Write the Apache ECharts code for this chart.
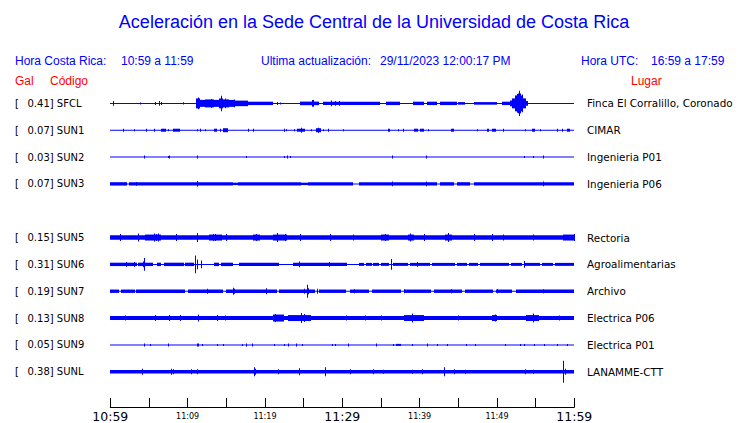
<!DOCTYPE html>
<html><head><meta charset="utf-8">
<script src="https://cdn.jsdelivr.net/npm/echarts@6/dist/echarts.min.js"></script>
<style>html,body{margin:0;padding:0;background:#fff}#c{width:740px;height:423px}</style>
</head><body><div id="c"></div>
<script>
// ---- data ----
const stations = ['SFCL','SUN1','SUN2','SUN3','SUN5','SUN6','SUN7','SUN8','SUN9','SUNL'];
const galValues = [0.41,0.07,0.03,0.07,0.15,0.31,0.19,0.13,0.05,0.38];
const places = ['Finca El Corralillo, Coronado','CIMAR','Ingenieria P01','Ingenieria P06','Rectoria','Agroalimentarias','Archivo','Electrica P06','Electrica P01','LANAMME-CTT'];
const rowSlots = [0,1,2,3,5,6,7,8,9,10];           // SUN4 slot (4) is empty
const tickLabels = ['10:59','11:09','11:19','11:29','11:39','11:49','11:59']; // every 10 min
const headerLocal = '10:59 a 11:59';
const headerUpdate = '29/11/2023 12:00:17 PM';
const headerUTC = '16:59 a 17:59';

// envelope segments [startMin, endMin, halfAmplitude] and spikes [min, halfAmplitude]
const sfclBand = [[11.1,11.6,5],[11.6,12.3,3.5],[12.3,13.4,4],[13.4,14.0,3.5],[14.0,14.6,5],[14.6,15.3,4],[15.3,16.1,3.5],[16.1,17.8,2.8],[17.8,21.0,1.7],[24.5,26.1,1.8],[26.1,26.4,3.5],[26.4,27.0,1.8],[27.5,34.9,1.7],[35.7,37.5,1.7],[39.2,40.6,1.7],[41.0,42.2,1.7],[42.6,44.8,1.7],[45.0,45.9,1.3],[47.0,50.0,1.3],[50.6,51.7,1.7],[51.7,51.9,3],[51.9,52.3,5],[52.3,52.7,8],[52.7,53.1,10],[53.1,53.4,8],[53.4,53.8,5],[53.8,54.05,2.5]];
const sfclSpike = [[0.4,2.3],[3.8,1],[5.8,1.5],[6.3,2.5],[6.6,1.5],[9.4,1.2],[11.3,6],[13.0,4.5],[14.3,7.8],[14.8,5],[16.0,4],[21.5,1.5],[21.9,1],[28.6,3],[29.05,2.5],[29.6,2.5],[52.6,9.5],[52.9,12.7],[53.2,9]];

const sun1Band = [[6.55,7.15,1.5],[8.1,9.0,1.5],[13.4,13.8,1.5],[14.6,15.2,2],[24.1,25.2,1.5],[26.6,27.2,2],[35.9,36.2,1.5],[39.3,39.8,1.5],[40.0,40.6,1.5],[44.05,44.4,1.5],[48.7,49.0,1.5],[49.4,49.9,1.5],[54.5,54.9,1.5],[59.0,59.4,1.5]];
const sun1Spike = [[1.7,1.5],[3.0,1],[4.6,1.5],[5.7,1.5],[7.4,1],[11.25,1],[11.6,1.5],[12.2,1],[14.2,1.5],[17.8,1.5],[18.4,1.5],[22.4,1.5],[22.7,1],[23.7,1],[24.7,2.5],[25.9,1],[26.9,2.5],[27.5,1],[28.2,1.5],[30.1,1],[37.2,1],[37.9,1.5],[41.1,1],[47.4,1],[50.8,1.5],[53.6,1],[55.6,1],[57.7,1.5],[58.4,1.5]];

const sun2Band = [[11.2,11.4,1.5]];
const sun2Spike = [[4.4,1.5],[7.4,1],[7.6,1.5],[17.5,1],[22.4,1],[22.9,1.5],[23.2,1],[36.4,1.5],[40.8,1.5],[53.5,1],[54.7,1],[56.0,1.5]];

const sun3Band = [[0,2.2,1.7],[2.4,15.9,1.7],[15.9,16.5,1.2],[16.5,24.7,1.7],[24.7,25.6,1.2],[25.6,31.4,1.7],[32.1,42.2,1.7],[42.6,44.4,1.7],[44.8,46.5,1.7],[47.0,60,1.7]];
const sun3Spike = [[11.25,3],[36.4,2.5],[40.8,2.5],[56.0,2.5],[3.3,2]];

const sun5Band = [[0,60,2.3],[4.5,6.5,3],[12.8,14.5,3],[18.5,19.3,3],[21.0,22.8,3],[35.0,36.0,3],[38.5,39.3,3],[43.3,44.2,3],[58.5,60,3]];
const sun5Spike = [[1.25,3.5],[3.6,4],[5.6,4],[5.9,3.5],[6.2,4],[8.5,3.5],[11.2,4.5],[13.3,3.5],[13.6,3.5],[15.0,3.5],[18.9,3.5],[21.5,4.5],[22.6,3.5],[24.5,3.5],[28.4,3.5],[31.4,3],[35.5,3.5],[38.8,4],[40.5,3.5],[43.7,4.5],[47.0,3.5],[49.3,3.5],[50.8,3],[54.7,3],[59.9,3.5]];

const sun6Band = [[0,3.4,1.7],[3.6,5.5,1.7],[6.0,6.6,1.7],[6.9,9.5,1.7],[9.7,10.8,1.7],[13.4,14.0,1.7],[14.3,15.9,1.7],[16.6,21.8,1.7],[23.6,30.6,1.7],[32.1,32.8,1.5],[33.1,33.8,1.5],[34.0,34.8,1.5],[35.0,36.1,1.5],[36.5,38.5,1.5],[38.7,41.3,1.5],[41.6,44.6,1.5],[44.8,46.1,1.5],[46.4,47.6,1.5],[47.8,51.5,1.5],[51.8,53.3,1.5],[53.6,55.6,1.5],[55.8,57.3,1.5],[57.5,60,1.5]];
const sun6Spike = [[4.2,3],[4.4,6.5],[11.0,9],[11.15,5],[11.7,4],[24.4,3],[28.3,2.5],[36.25,5.3],[39.6,2.5],[53.5,3.5],[2.0,2.3],[3.0,2.3]];

const sun7Band = [[0,1.1,1.7],[1.4,3.2,1.7],[3.3,9.6,1.7],[10.0,14.6,1.7],[15.0,21.5,1.7],[21.8,26.5,1.7],[27.0,30.5,1.7],[31.0,33.5,1.7],[33.8,37.6,1.7],[38.0,41.5,1.7],[41.9,45.5,1.7],[45.9,49.5,1.7],[49.9,52.0,1.7],[52.5,60,1.7]];
const sun7Spike = [[12.5,2.5],[15.9,3.5],[16.0,2.5],[20.1,3],[25.0,2.5],[25.4,6.5],[25.6,3],[26.7,2.5],[31.5,2],[38,2],[44,2],[50,2],[56,2]];

const sun8Band = [[0,60,2],[21.1,22.4,3.5],[23.0,26.0,3],[38.0,40.5,3],[49.3,50.0,3],[53.8,55.5,3]];
const sun8Spike = [[1.9,2.5],[5.8,3],[7.6,3],[9.0,3],[11.4,3.5],[13.75,3],[14.8,2.5],[21.3,4],[24.7,5],[25.0,4],[39.0,4.5],[49.7,3.5],[54.7,4.5],[30.5,2.5],[33,2.5],[35,2.5],[45,2.5],[58,2.5]];

const sun9Band = [[37.0,37.6,1],[11.2,11.5,1.5]];
const sun9Spike = [[4.4,1.5],[5.1,1],[7.5,1.5],[11.9,1],[13.8,1],[14.6,1],[17.0,1],[17.5,1.5],[18.3,1.5],[21.2,1],[22.4,1],[23.0,1.5],[24.0,1.5],[24.8,1],[28.7,1],[29.1,1],[30.8,1.5],[34.4,1.5],[36.5,1],[39.0,1],[40.9,1.5],[42.2,1],[43.6,1],[46.0,1],[47.2,1],[51.0,1],[53.0,1],[53.5,1],[54.8,1],[56.1,1],[57.7,1],[59.1,1]];

const sunlBand = [[0,60,1.8]];
const sunlSpike = [[4.05,3],[7.9,3],[8.1,2.5],[10.4,2.5],[11.2,2.5],[18.6,4.5],[18.7,3],[21.7,2.5],[24.4,3.5],[27.7,4.5],[31.0,2.5],[34.0,2.5],[35.3,2],[39.0,2],[40.3,2.5],[43.2,4.5],[44.4,2.5],[45.9,2],[53.6,2.5],[54.7,2],[58.6,11],[58.8,3]];

const bands = [sfclBand,sun1Band,sun2Band,sun3Band,sun5Band,sun6Band,sun7Band,sun8Band,sun9Band,sunlBand];
const spikes = [sfclSpike,sun1Spike,sun2Spike,sun3Spike,sun5Spike,sun6Spike,sun7Spike,sun8Spike,sun9Spike,sunlSpike];

// ---- build ----
const ROW_STEP = 27;
const BLUE = '#0000ff';
const traceData = [];
stations.forEach((s, i) => {
  const yc = rowSlots[i] * ROW_STEP;
  traceData.push([0, 60, 0, yc]);
  bands[i].forEach(b => traceData.push([b[0], b[1], b[2], yc]));
  spikes[i].forEach(p => traceData.push([p[0], p[0], p[1], yc]));
});
const labelData = stations.map((s, i) => [0, rowSlots[i] * ROW_STEP]);

const chart = echarts.init(document.getElementById('c'), null, {renderer: 'svg'});
const hdrFont = '12px "Liberation Sans", Arial, sans-serif';
const lblFont = '10px "DejaVu Sans", sans-serif';
const plcFont = '10.4px "DejaVu Sans", sans-serif';
function txt(x, y, text, fill, font, align) {
  return {type: 'text', x: x, y: y, style: {text: text, fill: fill, font: font, align: align || 'left', verticalAlign: 'middle'}};
}
chart.setOption({
  animation: false,
  backgroundColor: '#fff',
  graphic: [
    txt(374, 22, 'Aceleración en la Sede Central de la Universidad de Costa Rica', BLUE, '18px "Liberation Sans", Arial, sans-serif', 'center'),
    txt(15, 61, 'Hora Costa Rica:', BLUE, hdrFont),
    txt(121, 61, headerLocal, BLUE, hdrFont),
    txt(261, 61, 'Ultima actualización:', BLUE, hdrFont),
    txt(380, 61, headerUpdate, BLUE, hdrFont),
    txt(581, 61, 'Hora UTC:', BLUE, hdrFont),
    txt(651, 61, headerUTC, BLUE, hdrFont),
    txt(15, 81, 'Gal', '#ff0000', hdrFont),
    txt(50, 81, 'Código', '#ff0000', hdrFont),
    txt(631, 81, 'Lugar', '#ff0000', hdrFont)
  ],
  grid: {left: 110.3, width: 464, top: 85, bottom: 14},
  xAxis: {
    type: 'value', min: 0, max: 60, interval: 5, position: 'bottom',
    axisLine: {show: true, onZero: false, lineStyle: {color: '#000', width: 1}},
    axisTick: {show: true, inside: true, length: 9, lineStyle: {color: '#000'}},
    splitLine: {show: false},
    axisLabel: {
      margin: 2, hideOverlap: false, showMinLabel: true, showMaxLabel: true,
      formatter: function (v) {
        if (v % 10 !== 0) return '';
        const i = v / 10;
        return (i % 3 === 0 ? '{big|' : '{small|') + tickLabels[i] + '}';
      },
      rich: {
        big: {fontSize: 12.5, fontFamily: 'DejaVu Sans', color: '#000', lineHeight: 15},
        small: {fontSize: 8, fontFamily: 'DejaVu Sans', color: '#000', lineHeight: 15}
      }
    }
  },
  yAxis: {type: 'value', inverse: true, min: -18.5, max: 305.5, show: false},
  series: [
    {
      type: 'custom', clip: false, data: traceData,
      renderItem: function (params, api) {
        const p0 = api.coord([api.value(0), api.value(3)]);
        const p1 = api.coord([api.value(1), api.value(3)]);
        const hh = api.size([0, api.value(2)])[1];
        const x0 = Math.round(p0[0]);
        const w = Math.max(1, Math.round(p1[0]) - x0);
        const h = Math.max(1, 2 * hh);
        return {type: 'rect', shape: {x: x0, y: p0[1] - h / 2, width: w, height: h},
                style: {fill: BLUE}};
      }
    },
    {
      type: 'custom', clip: false, data: labelData, silent: true,
      renderItem: function (params, api) {
        const i = params.dataIndex;
        const p = api.coord([api.value(0), api.value(1)]);
        return {type: 'group', children: [
          txt(15, p[1], '[', '#000', lblFont),
          txt(27.5, p[1], galValues[i].toFixed(2) + '] ' + stations[i], '#000', lblFont),
          txt(587, p[1], places[i], '#000', plcFont)
        ]};
      }
    }
  ]
});
</script></body></html>
